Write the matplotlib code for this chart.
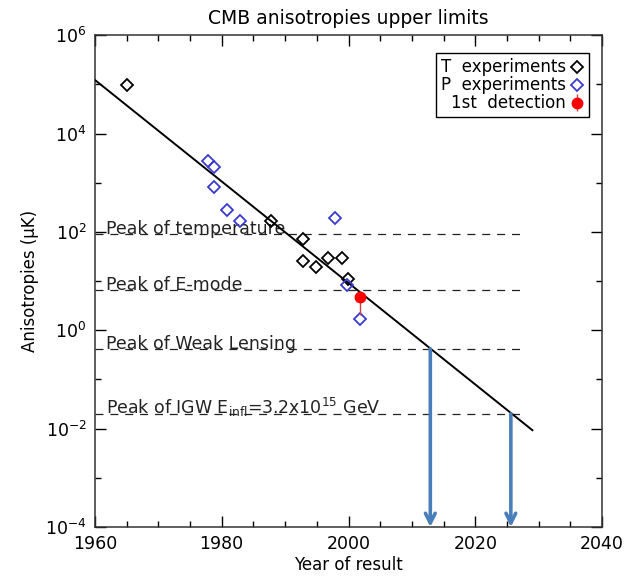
import matplotlib
matplotlib.use("Agg")
import matplotlib.pyplot as plt
from matplotlib.ticker import FixedLocator, MultipleLocator, NullFormatter, LogFormatterSciNotation

# temperature experiments (open black diamonds)
t_years = [1965, 1987.7, 1992.9, 1992.8, 1994.9, 1996.8, 1998.9, 1999.9]
t_vals = [9.5e4, 166, 72, 26, 19.6, 29.5, 30, 11]

# polarisation experiments (open blue diamonds)
p_years = [1977.8, 1978.8, 1978.8, 1980.9, 1982.9, 1997.9, 1999.7, 2001.8]
p_vals = [2800, 2100, 810, 280, 166, 196, 8.3, 1.7]

# first detection
det_year = [2001.8]
det_val = [4.8]
det_err_lo = [2.8]
det_err_hi = [1.6]

# trend line
fit_years = [1960, 2029]
fit_vals = [1.23e5, 9.3e-3]

# reference levels
peak_labels = ['Peak of temperature', 'Peak of E-mode', 'Peak of Weak Lensing',
               r'Peak of IGW E$_{\rm infl}$=3.2x10$^{15}$ GeV']
peak_vals = [90, 6.5, 0.42, 0.02]
peak_start = 1960
peak_end = 2028
label_year = 1961.8

# projected years
arrow_years = [2012.9, 2025.6]
arrow_tops = [0.42, 0.02]

blue = '#3a3ad0'
arrow_col = '#4a7ebb'

fig = plt.figure(figsize=(6.24, 5.76), dpi=100)
ax = fig.add_axes([0.152, 0.085, 0.813, 0.854])
ax.set_yscale('log')

for lab, v in zip(peak_labels, peak_vals):
    ax.plot([peak_start, peak_end], [v, v], color='#222222', lw=0.9, dashes=(6.4, 5.5), zorder=1)
    ax.text(label_year, v, lab, fontsize=12.5, va='baseline', ha='left', color='#222222', zorder=2)

ax.plot(fit_years, fit_vals, color='black', lw=1.4, zorder=3)

for yr, top in zip(arrow_years, arrow_tops):
    ax.annotate('', xy=(yr, 1e-4), xytext=(yr, top),
                arrowprops=dict(arrowstyle='->,head_length=0.7,head_width=0.35',
                                lw=2.6, color=arrow_col, shrinkA=0, shrinkB=0),
                zorder=4)

ax.plot(t_years, t_vals, linestyle='none', marker='D', markersize=6.5, mfc='none',
        mec='black', mew=1.3, label='T  experiments', zorder=5)
ax.plot(p_years, p_vals, linestyle='none', marker='D', markersize=6.5, mfc='none',
        mec=blue, mew=1.3, label='P  experiments', zorder=5)
ax.errorbar(det_year, det_val, yerr=[det_err_lo, det_err_hi], fmt='o', color='red',
            ms=7.5, elinewidth=1.0, ecolor='#d04040', capsize=0, label='1st  detection', zorder=6)

ax.set_xlim(1960, 2040)
ax.set_ylim(1e-4, 1e6)
ax.xaxis.set_major_locator(MultipleLocator(20))
ax.xaxis.set_minor_locator(MultipleLocator(5))
ax.yaxis.set_major_locator(FixedLocator([1e-4, 1e-2, 1e0, 1e2, 1e4, 1e6]))
ax.yaxis.set_minor_locator(FixedLocator([1e-3, 1e-1, 1e1, 1e3, 1e5]))
ax.yaxis.set_major_formatter(LogFormatterSciNotation())
ax.yaxis.set_minor_formatter(NullFormatter())
ax.tick_params(which='both', direction='in', top=True, right=True, labelsize=12.5, pad=6)
ax.tick_params(which='major', length=8, width=1)
ax.tick_params(which='minor', length=4, width=1)
for s in ax.spines.values():
    s.set_linewidth(1.1)
    s.set_color('#333333')

ax.set_xlabel('Year of result', fontsize=12, labelpad=2)
ax.set_ylabel('Anisotropies (\u03bcK)', fontsize=12, labelpad=4)
ax.set_title('CMB anisotropies upper limits', fontsize=13.5, pad=8)

leg = ax.legend(loc='upper right', bbox_to_anchor=(0.974, 0.963), borderaxespad=0,
                markerfirst=False, fancybox=False, edgecolor='black', framealpha=1,
                fontsize=12, handlelength=0.8, handletextpad=0.3, labelspacing=0.0,
                borderpad=0.3, numpoints=1)
leg.get_frame().set_linewidth(1.0)

fig.savefig('out.png', dpi=100)
